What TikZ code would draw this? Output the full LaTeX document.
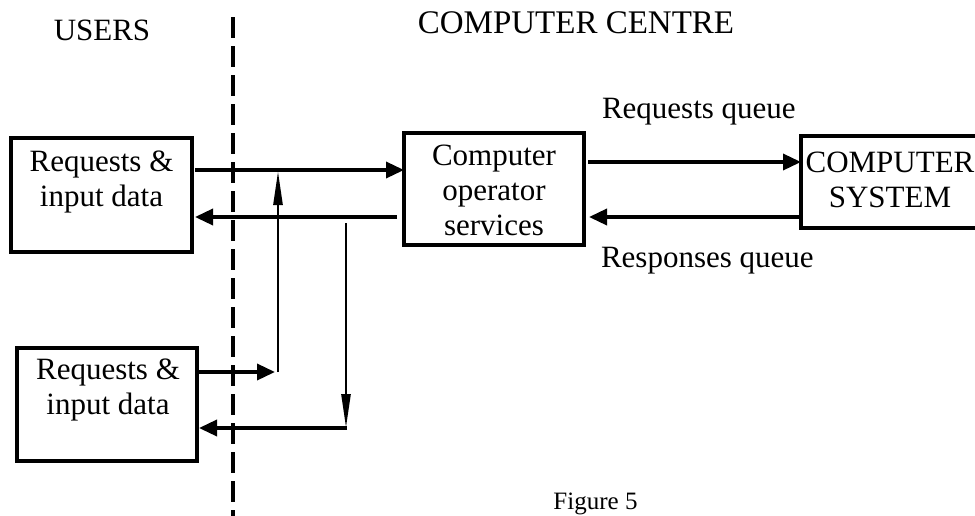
\documentclass[tikz,border=0pt]{standalone}
\usepackage{fontspec}
\setmainfont{Liberation Serif}
\usetikzlibrary{arrows.meta}
\begin{document}
\begin{tikzpicture}[x=1pt,y=-1pt,
  txt/.style={font=\fontsize{31}{35}\selectfont,inner sep=0pt,outer sep=0pt,align=center},
  box/.style={draw,line width=3.5pt,inner sep=0pt,outer sep=0pt},
  flow/.style={line width=3.5pt,-{Triangle[length=18pt,width=16pt]}},
  feed/.style={line width=2.6pt,-{Triangle[length=34pt,width=9pt]}},
  divider/.style={line width=4pt,dash pattern=on 21pt off 8pt}]
\clip (0,0) rectangle (975,515);

% headings
\node[txt,anchor=base] (users) at (102,40) {USERS};
\node[txt,font=\fontsize{33}{37}\selectfont,anchor=base] (centre) at (576,33) {COMPUTER CENTRE};
\node[txt,font=\fontsize{25}{29}\selectfont,anchor=base] (caption) at (595.5,509) {Figure 5};

% boundary between users and the computer centre
\coordinate (divtop) at (233,17);
\coordinate (divbot) at (233,520);
\draw[divider] (divtop) -- (divbot);

% boxes
\node[box,minimum width=181pt,minimum height=114pt] (u1) at (101.5,195) {};
\node[box,minimum width=180pt,minimum height=113pt] (u2) at (107,404.5) {};
\node[box,minimum width=180pt,minimum height=112pt] (op) at (494,189) {};
\node[box,minimum width=200pt,minimum height=92pt] (cs) at (901,182) {};

\node[txt,anchor=north] (u1t) at ([yshift=-13pt]u1.north) {Requests \&\\input data};
\node[txt,anchor=north] (u2t) at ([yshift=-11pt,xshift=1pt]u2.north) {Requests \&\\input data};
\node[txt,anchor=north] (opt) at ([yshift=-12pt]op.north) {Computer\\operator\\services};
\node[txt,anchor=north] (cst) at (890,152) {COMPUTER\\SYSTEM};

% queue labels
\node[txt,anchor=base west] (rq) at (602,118) {Requests queue};
\node[txt,anchor=base west] (rs) at (601,267) {Responses queue};

% first user <-> operator services
\draw[flow] ([xshift=3pt]u1.east |- 0,170) -- (op.west |- 0,170);
\draw[flow] ([xshift=-7pt]op.west |- 0,217) -- ([xshift=3pt]u1.east |- 0,217);

% operator services <-> computer system
\draw[flow] ([xshift=4pt]op.east |- 0,162) -- (cs.west |- 0,162);
\draw[flow] (cs.west |- 0,217) -- ([xshift=5pt]op.east |- 0,217);

% second user joins the same flows
\coordinate (up0) at (278,372);
\coordinate (up1) at (278,171);
\coordinate (dn0) at (346,223);
\coordinate (dn1) at (346,428);
\draw[flow] ([xshift=1pt]u2.east |- up0) -- ([xshift=-3pt]up0);
\draw[feed] (up0) -- (up1);
\draw[feed] (dn0) -- (dn1);
\draw[flow] ([xshift=1pt]dn1) -- ([xshift=2pt]u2.east |- dn1);
\end{tikzpicture}
\end{document}
